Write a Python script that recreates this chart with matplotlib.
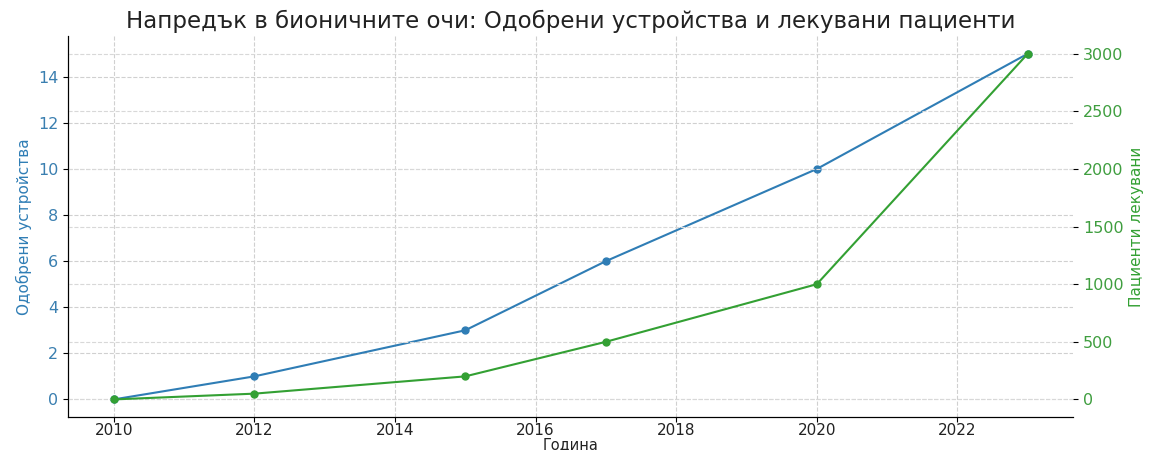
import matplotlib.pyplot as plt

plt.rcParams['font.family'] = ['DejaVu Sans']

years = [2010, 2012, 2015, 2017, 2020, 2023]
devices = [0, 1, 3, 6, 10, 15]
patients = [0, 50, 200, 500, 1000, 3000]

blue = '#2f7db5'
green = '#33a033'

fig, ax1 = plt.subplots(figsize=(11.53, 4.5), dpi=100)
fig.subplots_adjust(left=0.059, right=0.931, bottom=0.074, top=0.919)

ax1.plot(years, devices, 'o-', color=blue, lw=1.5, ms=5)
ax1.set_xlabel('Година', fontsize=10.5, color='#222222')
ax1.xaxis.set_label_coords(0.5, -0.053)
ax1.set_ylabel('Одобрени устройства', color=blue, fontsize=11)
ax1.tick_params(axis='y', labelcolor='#3a7fb0', labelsize=11.5)
ax1.tick_params(axis='x', labelsize=11, labelcolor='#222222', pad=1)
ax1.grid(True, ls='--', color='#d0d0d0', lw=0.8)
ax1.set_xticks(range(2010, 2024, 2))

ax2 = ax1.twinx()
ax2.plot(years, patients, 'o-', color=green, lw=1.5, ms=5)
ax2.set_ylabel('Пациенти лекувани', color=green, fontsize=11)
ax2.tick_params(axis='y', labelcolor='#3f9e3f', labelsize=11.5)
ax2.grid(True, ls='--', color='#d8d8d8', lw=0.8)

for ax in (ax1, ax2):
    ax.spines['top'].set_visible(False)
    ax.spines['right'].set_visible(False)

ax1.set_title('Напредък в бионичните очи: Одобрени устройства и лекувани пациенти',
              fontsize=16.5, color='#222222', pad=6)

fig.savefig('out.png')
